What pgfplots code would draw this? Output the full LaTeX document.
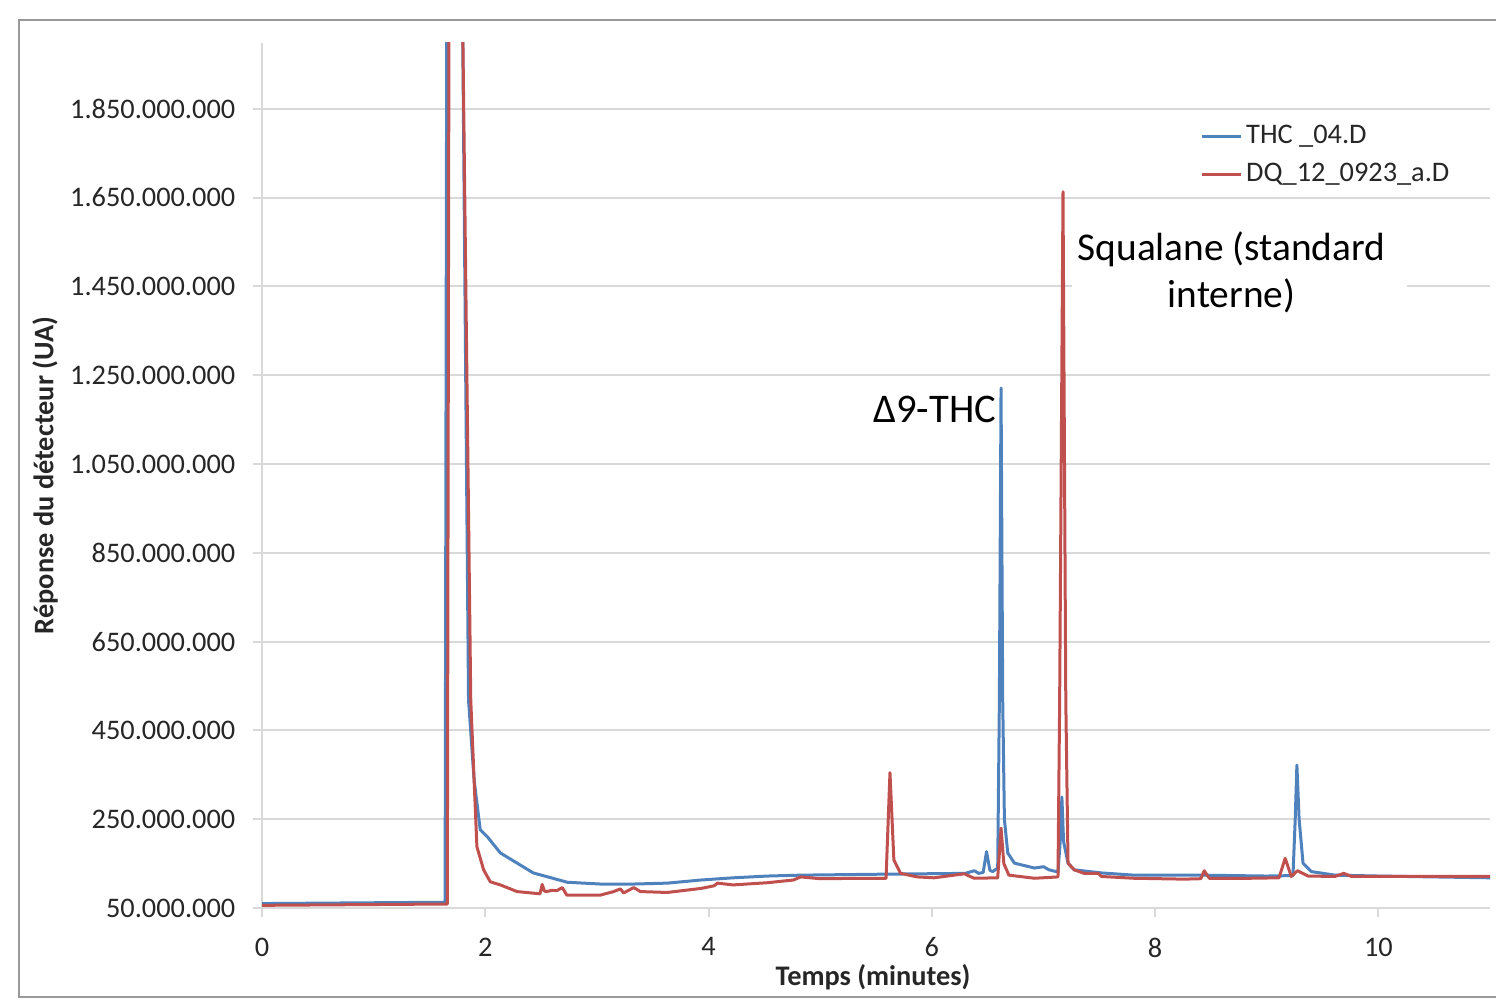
\documentclass[border=0pt]{standalone}
\usepackage{fontspec}
\setmainfont{Carlito}
\usepackage{pgfplots}
\pgfplotsset{compat=1.18}
\definecolor{xlblue}{HTML}{4F81BD}
\definecolor{xlred}{HTML}{C0504D}
\definecolor{gridc}{HTML}{D9D9D9}
\definecolor{txtc}{HTML}{262626}
\begin{document}
\begin{tikzpicture}
\path[use as bounding box] (0,0) rectangle (448.8pt,300pt);
\draw[gray!80, line width=0.6pt] (448.8pt,294pt) -- (5.7pt,294pt) -- (5.7pt,0.9pt) -- (448.8pt,0.9pt);
\begin{axis}[
  at={(78.6pt,27.6pt)}, anchor=south west,
  width=368.4pt, height=259.5pt, scale only axis,
  xmin=0, xmax=11, ymin=50, ymax=1998,
  axis lines=left,
  axis line style={gridc, line width=0.6pt, -},
  xtick={0,2,4,6,8,10},
  ytick={50,250,450,650,850,1050,1250,1450,1650,1850},
  yticklabels={50.000.000,250.000.000,450.000.000,650.000.000,850.000.000,1.050.000.000,1.250.000.000,1.450.000.000,1.650.000.000,1.850.000.000},
  ymajorgrids,
  grid style={gridc, line width=0.6pt},
  tick style={gridc, line width=0.6pt},
  tick align=outside,
  major tick length=2.7pt,
  /pgf/number format/assume math mode=true,
  ticklabel style={font=\fontsize{8.5}{10}\selectfont, text=txtc},
  yticklabel style={xshift=-1.8pt},
  xticklabel style={yshift=-2.7pt},
  xlabel={Temps (minutes)},
  ylabel={Réponse du détecteur (UA)},
  xlabel style={font=\bfseries\fontsize{8.5}{10}\selectfont, text=txtc, at={(axis description cs:0.4976,-0.0798)}, anchor=center},
  ylabel style={font=\bfseries\fontsize{8.5}{10}\selectfont, text=txtc, at={(axis description cs:-0.1767,0.5)}, anchor=center},
  legend style={at={(0.764,0.910)}, anchor=north west, draw=none, fill=none,
    font=\fontsize{8.5}{10}\selectfont, text=txtc, inner sep=0pt, row sep=2.4pt,
    nodes={inner sep=1pt}},
  legend cell align=left,
  legend image code/.code={\draw[#1] (0pt,0pt) -- (11.7pt,0pt);},
]
\addplot[xlblue, line width=0.9pt, line join=round] coordinates {
(0,60) (1.64,63) (1.655,2100) (1.795,2100) (1.85,518) (1.90,338) (1.955,226) (2.02,210)
(2.135,174) (2.43,129) (2.735,108) (3.03,104) (3.33,104) (3.63,106) (3.93,113) (4.22,118)
(4.53,122) (4.825,124) (5.5,126) (6.3,128) (6.38,134) (6.42,128) (6.46,130) (6.49,177)
(6.52,135) (6.545,132) (6.59,140) (6.605,518) (6.62,1221) (6.635,518) (6.65,250) (6.68,174)
(6.74,151) (6.92,140) (7.00,143) (7.05,136) (7.13,131) (7.15,200) (7.165,300) (7.18,200)
(7.22,151) (7.275,136) (7.52,129) (7.81,124) (8.41,124) (9.0,122) (9.235,123) (9.255,250)
(9.27,372) (9.29,250) (9.325,151) (9.40,132) (9.61,124) (10.0,122) (11.0,118)
};
\addlegendentry{THC \_04.D}
\addplot[xlred, line width=0.9pt, line join=round] coordinates {
(0,56) (1.66,59) (1.675,2100) (1.795,2100) (1.87,518) (1.925,188) (1.985,136) (2.045,109)
(2.135,102) (2.285,87) (2.49,82) (2.51,103) (2.53,88) (2.55,87) (2.60,90) (2.64,89)
(2.69,96) (2.73,79) (3.03,79) (3.15,87) (3.21,93) (3.24,84) (3.33,96) (3.39,87)
(3.63,85) (3.93,94) (4.05,100) (4.08,106) (4.22,102) (4.53,107) (4.68,111) (4.76,113)
(4.825,120) (5.0,116) (5.42,117) (5.59,117) (5.625,355) (5.66,158) (5.72,128) (5.87,120)
(6.02,118) (6.29,127) (6.38,117) (6.59,118) (6.62,230) (6.645,150) (6.69,124) (6.92,117)
(7.13,120) (7.145,518) (7.175,1663) (7.20,518) (7.22,151) (7.275,136) (7.365,128) (7.49,128)
(7.52,121) (7.81,117) (8.26,115) (8.41,116) (8.44,134) (8.485,117) (8.86,117) (9.11,118)
(9.165,162) (9.22,121) (9.275,134) (9.37,122) (9.61,121) (9.69,128) (9.76,121) (11.0,121)
};
\addlegendentry{DQ\_12\_0923\_a.D}
\node[fill=white, minimum width=100.5pt, minimum height=31pt, inner sep=0pt] at (axis cs:8.752,1482) {};
\node[align=center, inner sep=2pt,
  font=\fontsize{11.8}{14.1}\selectfont, text=black] at (axis cs:8.685,1482) {Squalane (standard\\interne)};
\node[font=\fontsize{12.2}{14.1}\selectfont, text=black] at (axis cs:6.027,1172) {Δ9-THC};
\end{axis}
\end{tikzpicture}
\end{document}
